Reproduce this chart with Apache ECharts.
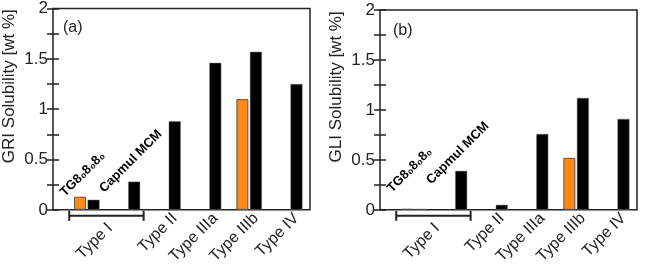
<!DOCTYPE html>
<html>
<head>
	<meta charset="utf-8">
</head>
<body style="margin: 0">
<div id="container" style="width: 648px; height: 267px"></div>
<script type="text/javascript" src="https://cdn.jsdelivr.net/npm/echarts@6/dist/echarts.min.js"></script>
<script type="text/javascript">
    // x positions are measured in thirds of one formulation slot
    var typeNames = ['Type I', 'Type II', 'Type IIIa', 'Type IIIb', 'Type IV'];
    var typePos = [4, 9, 12, 15, 18];
    var orangePos = [2, 14];
    var blackPos = [3, 6, 9, 12, 15, 18];
    var griOrange = [0.13, 1.10];
    var griBlack = [0.10, 0.28, 0.88, 1.46, 1.57, 1.25];
    var gliOrange = [0.01, 0.52];
    var gliBlack = [0.01, 0.39, 0.05, 0.76, 1.12, 0.91];
    var bracketTypeI = [1.2, 6.7, -0.06];
    var notesA = [[0.7, 0.15, 'TG8₀8₀8₀'], [3.6, 0.19, 'Capmul MCM']];
    var notesB = [[0.7, 0.19, 'TG8₀8₀8₀'], [3.6, 0.27, 'Capmul MCM']];

    var FONT = 'Liberation Sans';
    var GRID_H = 205;
    var dom = document.getElementById("container");
    var myChart = echarts.init(dom);

    function barData(orange, black) {
        var list = [];
        for (var i = 0; i < orangePos.length; i++) {
            list.push({
                value: [orangePos[i], orange[i]],
                itemStyle: {color: '#ff8a1c', borderColor: '#555', borderWidth: 1}
            });
        }
        for (var j = 0; j < blackPos.length; j++) {
            list.push({
                value: [blackPos[j], black[j]],
                itemStyle: {color: '#000', borderColor: '#777', borderWidth: 0.5}
            });
        }
        return list;
    }

    function xAxis(idx) {
        return {
            type: 'value', gridIndex: idx, min: 0, max: 19,
            axisLine: {show: false}, axisTick: {show: false}, splitLine: {show: false},
            axisLabel: {
                customValues: typePos,
                rotate: 45, margin: 6,
                fontFamily: FONT, fontSize: 16, color: '#222',
                formatter: function (v) {
                    // Type I sits below its bracket
                    return v === typePos[0] ? '{low|' + typeNames[0] + '}' : (typeNames[typePos.indexOf(v)] || '');
                },
                rich: {
                    low: {fontFamily: FONT, fontSize: 16, color: '#222', padding: [18, 5, 0, 0]}
                }
            }
        };
    }

    // the slanted notes are drawn as labels of extra axes lifted into the plot
    function noteAxis(idx, note) {
        return {
            type: 'value', gridIndex: idx, min: 0, max: 19, position: 'bottom',
            offset: -note[1] * GRID_H / 2,
            axisLine: {show: false}, axisTick: {show: false}, splitLine: {show: false},
            axisLabel: {
                customValues: [note[0]], inside: true, rotate: 45, margin: 0,
                fontFamily: FONT, fontWeight: 'bold', fontSize: 13, color: '#000',
                formatter: function () { return note[2]; }
            }
        };
    }

    function yAxis(idx, name, right) {
        return {
            type: 'value', gridIndex: idx, min: 0, max: 2, interval: 0.25,
            position: right ? 'right' : 'left',
            name: right ? '' : name, nameLocation: 'middle', nameGap: 35,
            nameTextStyle: {fontFamily: FONT, fontSize: 17, color: '#222', padding: [0, 0, 0, 46]},
            axisLine: {show: false},
            axisTick: {show: true, inside: true, length: 6, lineStyle: {color: '#222', width: 1.5}},
            splitLine: {show: false},
            axisLabel: {
                show: !right, margin: 5,
                fontFamily: FONT, fontSize: 17, color: '#222',
                formatter: function (v) {
                    return (v * 2) % 1 === 0 ? String(v) : '';
                }
            }
        };
    }

    function bracketSeries(idx) {
        return {
            type: 'custom', xAxisIndex: idx, yAxisIndex: idx * 2, clip: false,
            data: [bracketTypeI],
            renderItem: function (params, api) {
                var a = api.coord([api.value(0), api.value(2)]);
                var b = api.coord([api.value(1), api.value(2)]);
                var st = {stroke: '#222', lineWidth: 2};
                return {
                    type: 'group', children: [
                        {type: 'line', shape: {x1: a[0], y1: a[1], x2: b[0], y2: b[1]}, style: st},
                        {type: 'line', shape: {x1: a[0], y1: a[1] - 5, x2: a[0], y2: a[1] + 5}, style: st},
                        {type: 'line', shape: {x1: b[0], y1: b[1] - 5, x2: b[0], y2: b[1] + 5}, style: st}
                    ]
                };
            }
        };
    }

    var option = {
        backgroundColor: '#fff',
        animation: false,
        title: [
            {text: '(a)', left: 58, top: 15, textStyle: {fontFamily: FONT, fontSize: 16, fontWeight: 'normal', color: '#222'}},
            {text: '(b)', left: 388, top: 18, textStyle: {fontFamily: FONT, fontSize: 16, fontWeight: 'normal', color: '#222'}}
        ],
        grid: [
            {left: 52, right: 338, top: 7, bottom: 55, show: true, borderColor: '#222', borderWidth: 1.5},
            {left: 380, right: 11, top: 10, bottom: 56, show: true, borderColor: '#222', borderWidth: 1.5}
        ],
        xAxis: [
            xAxis(0), xAxis(1),
            noteAxis(0, notesA[0]), noteAxis(0, notesA[1]),
            noteAxis(1, notesB[0]), noteAxis(1, notesB[1])
        ],
        yAxis: [
            yAxis(0, 'GRI Solubility [wt %]', false), yAxis(0, '', true),
            yAxis(1, 'GLI Solubility [wt %]', false), yAxis(1, '', true)
        ],
        series: [
            {type: 'bar', xAxisIndex: 0, yAxisIndex: 0, barWidth: 12, data: barData(griOrange, griBlack)},
            {type: 'bar', xAxisIndex: 1, yAxisIndex: 2, barWidth: 12, data: barData(gliOrange, gliBlack)},
            bracketSeries(0), bracketSeries(1)
        ]
    };

    myChart.setOption(option, true);
</script>
</body>
</html>
